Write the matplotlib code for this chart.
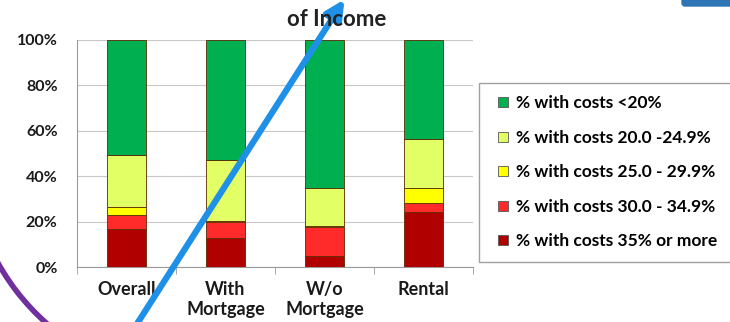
import numpy as np
import matplotlib
matplotlib.use("Agg")
import matplotlib.pyplot as plt
from matplotlib.patches import FancyArrowPatch, Arc, FancyBboxPatch
from matplotlib.lines import Line2D

plt.rcParams['font.family'] = ['Lato', 'DejaVu Sans']
plt.rcParams['font.weight'] = 'bold'

categories = ['Overall', 'With\nMortgage', 'W/o\nMortgage', 'Rental']
labels = ['% with costs <20%', '% with costs 20.0 -24.9%', '% with costs 25.0 - 29.9%',
          '% with costs 30.0 - 34.9%', '% with costs 35% or more']
colors = ['#00B050', '#E2FF66', '#FFFF00', '#FF2A2A', '#B00000']

# stacked from the bottom: 35%+, 30-34.9, 25-29.9, 20-24.9, <20
pct_35_plus = [16.6, 12.9, 5.0, 24.3]
pct_30_35 = [6.5, 7.0, 12.6, 3.9]
pct_25_30 = [3.4, 0.3, 0.3, 6.8]
pct_20_25 = [22.8, 26.9, 16.7, 21.6]
pct_under_20 = [50.7, 52.9, 65.4, 43.4]

fig = plt.figure(figsize=(7.3, 3.22), dpi=100)
ax = fig.add_axes([0.1055, 0.1708, 0.5425, 0.705])

x = np.arange(len(categories))
stack = [pct_35_plus, pct_30_35, pct_25_30, pct_20_25, pct_under_20]
stack_cols = colors[::-1]
bottom = np.zeros(len(categories))
for vals, col in zip(stack, stack_cols):
    ax.bar(x, vals, 0.39, bottom=bottom, color=col, edgecolor='#5a2a00', linewidth=0.6, zorder=3)
    bottom += np.array(vals)

ax.set_xlim(-0.5, 3.5)
ax.set_ylim(0, 100)
ax.set_yticks(range(0, 101, 20))
ax.set_yticklabels([f'{v}%' for v in range(0, 101, 20)], fontsize=11.5, fontweight='bold', color='#1a1a1a')
ax.set_xticks(x)
ax.set_xticklabels(categories, fontsize=13, fontweight='bold', color='#1a1a1a')
ax.tick_params(axis='x', length=0, pad=10)
ax.set_xticks(np.arange(-0.5, 4, 1), minor=True)
ax.tick_params(axis='x', which='minor', length=5, color='#999999')
ax.tick_params(axis='y', length=0, pad=14)
ax.grid(axis='y', color='#c8c8c8', linewidth=0.8, zorder=0)
for s in ['top', 'right']:
    ax.spines[s].set_visible(False)
ax.spines['left'].set_color('#999999')
ax.spines['bottom'].set_color('#999999')

handles = [Line2D([], [], linestyle='none', marker='s', markersize=7.5, markerfacecolor=c,
                  markeredgecolor='#555555', markeredgewidth=0.6) for c in colors]
fig.legend(handles, labels, loc='upper left',
           bbox_to_anchor=(479 / 730, 1 - 256 / 322, 270 / 730, 173 / 322), mode='expand',
           borderaxespad=0, frameon=True, fancybox=False, edgecolor='#888888',
           labelspacing=1.07, handlelength=1.4, handletextpad=0.05,
           borderpad=0.7, prop={'weight': 'bold', 'size': 12.5})

fig.text(337 / 730, 1 - 20 / 322, 'of Income', ha='center', va='center', fontsize=16,
         fontweight='bold', color='#222222')

# presenter annotations drawn over the slide
arrow = FancyArrowPatch((1.35, -0.05), (3.46, 3.25), transform=fig.dpi_scale_trans,
                        arrowstyle='-|>', mutation_scale=28, color='#1E90E8', linewidth=4.5)
fig.add_artist(arrow)
arc = Arc((2.0, 1.72), 4.63, 4.63, theta1=195, theta2=240,
          transform=fig.dpi_scale_trans, color='#7030A0', linewidth=4)
fig.add_artist(arc)
tab = FancyBboxPatch((6.82, 3.16), 0.6, 0.1, boxstyle='round,pad=0,rounding_size=0.03',
                     transform=fig.dpi_scale_trans, color='#2E75B6')
fig.add_artist(tab)

fig.savefig('out.png', dpi=100)
